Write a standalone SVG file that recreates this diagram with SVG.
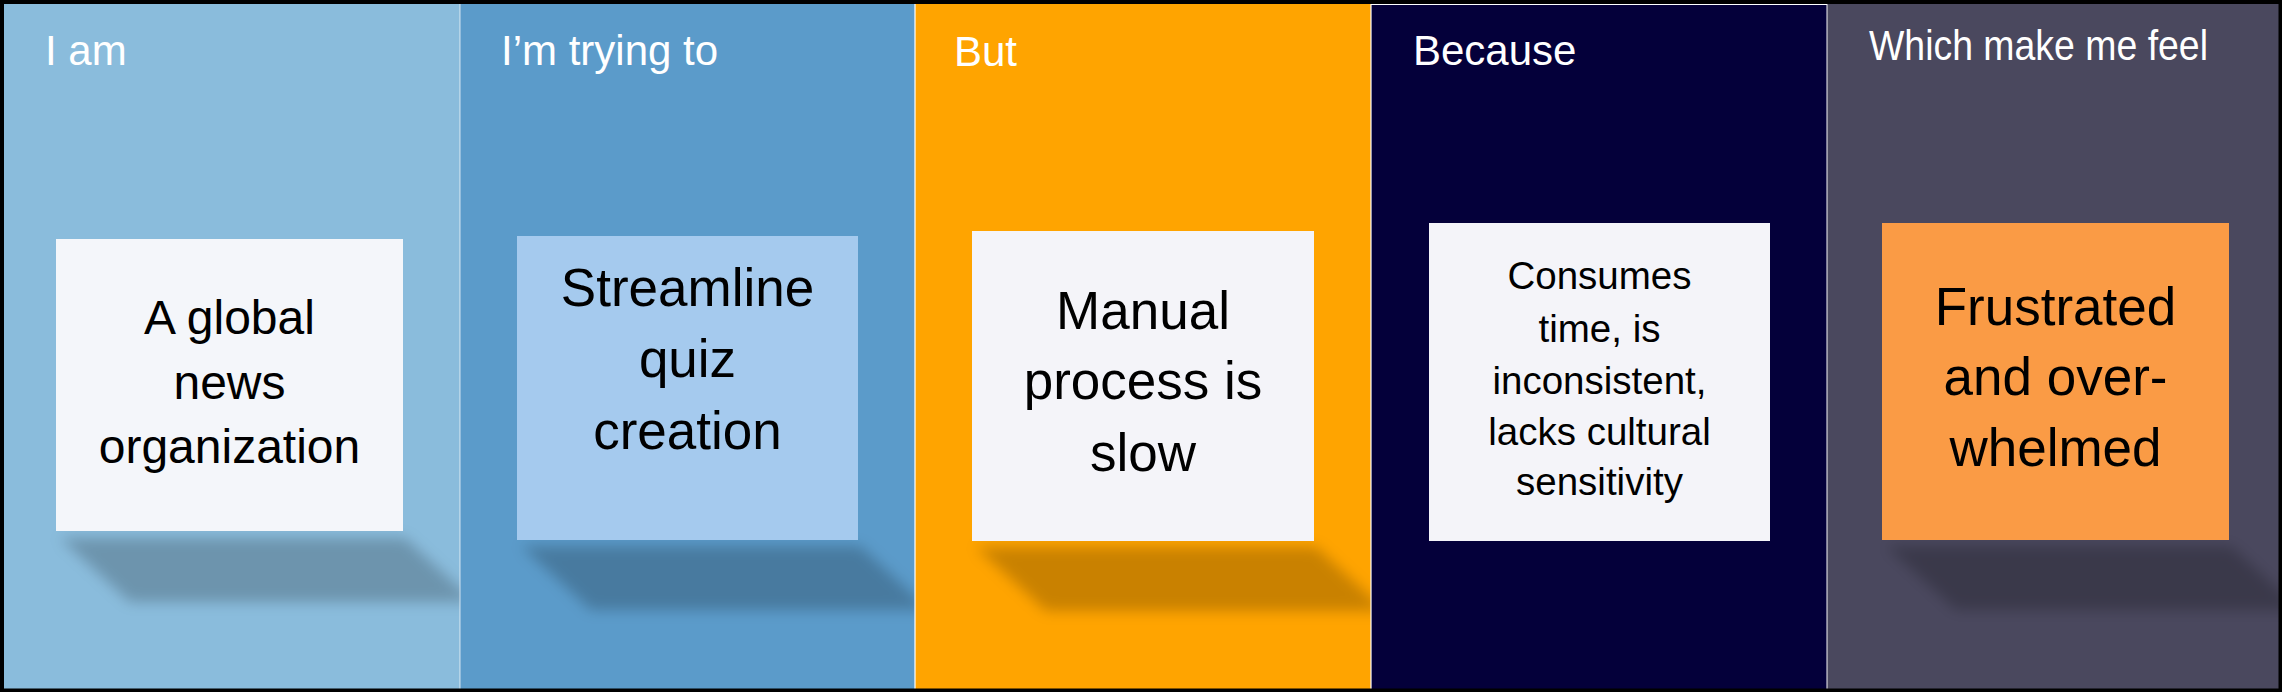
<svg xmlns="http://www.w3.org/2000/svg" width="2282" height="692" viewBox="0 0 2282 692">
  <style>
    .title { font-family: "Liberation Sans", Arial, sans-serif; font-size: 42px; fill: #ffffff; }
    .label { font-family: "Liberation Sans", Arial, sans-serif; fill: #000000; text-anchor: middle; }
    .shadow { fill: #000000; fill-opacity: 0.21; filter: url(#blur); }
    .divider { stroke: #ffffff; stroke-width: 1.2; }
  </style>
  <defs>
    <filter id="blur" x="-20%" y="-50%" width="140%" height="200%">
      <feGaussianBlur stdDeviation="7"/>
    </filter>
  </defs>

  <rect x="0" y="0" width="2282" height="692" fill="#000000"/>

  <g id="col-i-am">
    <rect x="4" y="4" width="456" height="685" fill="#8abcdc"/>
    <polygon class="shadow" points="60,538 405,538 475,602 130,602"/>
    <text class="title" x="45" y="65">I am</text>
    <g id="node-1">
      <rect x="56" y="239" width="347" height="292" fill="#f4f6fa"/>
      <text class="label" font-size="48" x="229.5" y="334">A global</text>
      <text class="label" font-size="48" x="229.5" y="399">news</text>
      <text class="label" font-size="48" x="229.5" y="463">organization</text>
    </g>
  </g>

  <g id="col-trying">
    <rect x="460" y="4" width="455" height="685" fill="#5b9bca"/>
    <polygon class="shadow" points="521,546 860,546 930,610 591,610"/>
    <text class="title" x="501" y="65">I’m trying to</text>
    <g id="node-2">
      <rect x="517" y="236" width="341" height="304" fill="#a5caee"/>
      <text class="label" font-size="53" x="687.5" y="306">Streamline</text>
      <text class="label" font-size="53" x="687.5" y="377">quiz</text>
      <text class="label" font-size="53" x="687.5" y="449">creation</text>
    </g>
  </g>

  <g id="col-but">
    <rect x="915" y="4" width="456" height="685" fill="#ffa400"/>
    <polygon class="shadow" points="976,547 1316,547 1386,611 1046,611"/>
    <text class="title" x="954" y="66">But</text>
    <g id="node-3">
      <rect x="972" y="231" width="342" height="310" fill="#f4f4f9"/>
      <text class="label" font-size="53" x="1143" y="329">Manual</text>
      <text class="label" font-size="53" x="1143" y="399">process is</text>
      <text class="label" font-size="53" x="1143" y="471">slow</text>
    </g>
  </g>

  <g id="col-because">
    <rect x="1371" y="4" width="456" height="685" fill="#04003a"/>
    <text class="title" x="1413" y="65">Because</text>
    <g id="node-4">
      <rect x="1429" y="223" width="341" height="318" fill="#f4f4f9"/>
      <text class="label" font-size="38.5" x="1599.5" y="289">Consumes</text>
      <text class="label" font-size="38.5" x="1599.5" y="341.5">time, is</text>
      <text class="label" font-size="38.5" x="1599.5" y="393.5">inconsistent,</text>
      <text class="label" font-size="38.5" x="1599.5" y="445">lacks cultural</text>
      <text class="label" font-size="38.5" x="1599.5" y="494.5">sensitivity</text>
    </g>
  </g>

  <g id="col-feel">
    <rect x="1827" y="4" width="455" height="685" fill="#4a485e"/>
    <polygon class="shadow" points="1886,546 2231,546 2301,610 1956,610"/>
    <text class="title" x="1869" y="60" textLength="339" lengthAdjust="spacingAndGlyphs">Which make me feel</text>
    <g id="node-5">
      <rect x="1882" y="223" width="347" height="317" fill="#fa9b45"/>
      <text class="label" font-size="53" x="2055.5" y="325">Frustrated</text>
      <text class="label" font-size="53" x="2055.5" y="395">and over-</text>
      <text class="label" font-size="53" x="2055.5" y="466">whelmed</text>
    </g>
  </g>

  <g id="connectors">
    <line class="divider" x1="460" y1="4" x2="460" y2="689" stroke-opacity="0.6"/>
    <line class="divider" x1="915" y1="4" x2="915" y2="689"/>
    <line class="divider" x1="1371" y1="4" x2="1371" y2="689"/>
    <line class="divider" x1="1371" y1="4.5" x2="1827" y2="4.5"/>
    <line class="divider" x1="1827" y1="4" x2="1827" y2="689" stroke-opacity="0.8"/>
  </g>

  <rect x="1.5" y="1.5" width="2279" height="689" fill="none" stroke="#000000" stroke-width="4"/>
</svg>
